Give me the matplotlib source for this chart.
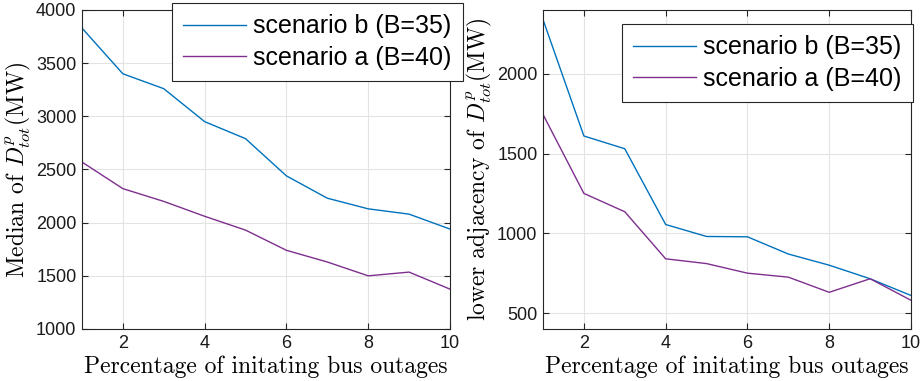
import numpy as np
import matplotlib
matplotlib.use("Agg")
import matplotlib.pyplot as plt

plt.rcParams['font.family'] = ['Liberation Sans', 'DejaVu Sans']
plt.rcParams['mathtext.fontset'] = 'cm'

pct = [1, 2, 3, 4, 5, 6, 7, 8, 9, 10]
labels = ["scenario b (B=35)", "scenario a (B=40)"]
median_b = [3830, 3400, 3260, 2950, 2790, 2440, 2230, 2130, 2080, 1940]
median_a = [2570, 2320, 2200, 2060, 1930, 1740, 1630, 1500, 1535, 1375]
lower_b = [2340, 1610, 1530, 1055, 980, 978, 870, 800, 715, 610]
lower_a = [1745, 1250, 1135, 840, 810, 750, 725, 630, 715, 580]

blue = "#0072BD"
purple = "#7E2F8E"

fig = plt.figure(figsize=(9.23, 3.81), dpi=100)
ax1 = fig.add_axes([0.0888, 0.1365, 0.3987, 0.8373])
ax2 = fig.add_axes([0.5883, 0.1365, 0.3987, 0.8373])

def style(ax, ylab):
    ax.set_xlim(1, 10)
    ax.set_xticks([2, 4, 6, 8, 10])
    ax.grid(True, color="#e3e3e3", linewidth=0.8)
    ax.set_axisbelow(True)
    ax.tick_params(direction="in", length=4, labelsize=13, colors="#262626",
                   labelcolor="#1a1a1a", top=True, right=True, pad=4)
    for s in ax.spines.values():
        s.set_color("#262626")
        s.set_linewidth(0.8)
    ax.set_xlabel("Percentage of initating bus outages", family="cmr10",
                  fontsize=17, labelpad=3)
    ax.set_ylabel(ylab, family="cmr10", fontsize=17, labelpad=2)

ax1.plot(pct, median_b, color=blue, lw=1, label=labels[0])
ax1.plot(pct, median_a, color=purple, lw=1, label=labels[1])
ax1.set_ylim(1000, 4000)
ax1.set_yticks(np.arange(1000, 4001, 500))
style(ax1, r"Median of $D^p_{tot}$(MW)")

ax2.plot(pct, lower_b, color=blue, lw=1, label=labels[0])
ax2.plot(pct, lower_a, color=purple, lw=1, label=labels[1])
ax2.set_ylim(400, 2400)
ax2.set_yticks([500, 1000, 1500, 2000])
style(ax2, r"lower adjacency of $D^p_{tot}$(MW)")

for ax, anchor in [(ax1, (463 / 923, 1 - 3 / 381)), (ax2, (913 / 923, 1 - 24 / 381))]:
    leg = ax.legend(loc="upper right", bbox_to_anchor=anchor, bbox_transform=fig.transFigure,
                    borderaxespad=0, fontsize=18, handlelength=2.5, fancybox=False,
                    framealpha=1, edgecolor="#262626", labelspacing=0.3,
                    borderpad=0.45, handletextpad=0.3)
    leg.get_frame().set_linewidth(0.8)

fig.savefig("out.png", dpi=100)
